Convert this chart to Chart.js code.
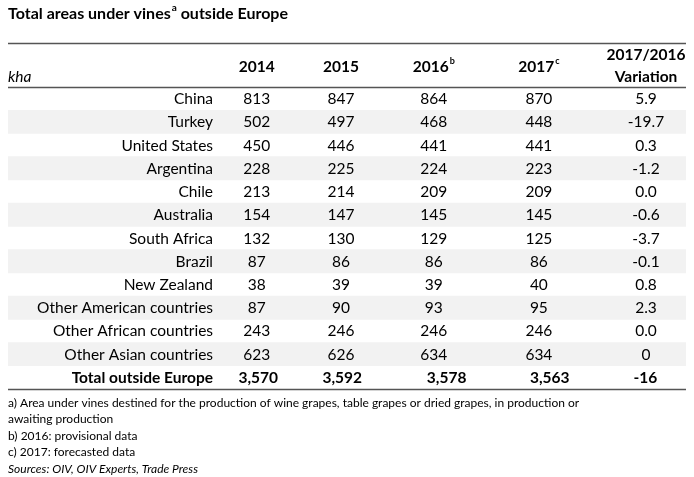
<!DOCTYPE html>
<html><head><meta charset="utf-8">
<script src="https://cdn.jsdelivr.net/npm/chart.js@4/dist/chart.umd.min.js"></script>
<style>html,body{margin:0;padding:0;background:#fff}#wrap{width:694px;height:477px;position:relative}</style>
</head><body><div id="wrap"><canvas id="c"></canvas></div>
<script>
// ---- data ----
const rowLabels = ['China','Turkey','United States','Argentina','Chile','Australia','South Africa','Brazil','New Zealand','Other American countries','Other African countries','Other Asian countries','Total outside Europe'];
const years = ['2014','2015','2016','2017'];
const yearNotes = ['', '', 'b', 'c'];
const v2014 = [813,502,450,228,213,154,132,87,38,87,243,623,3570];
const v2015 = [847,497,446,225,214,147,130,86,39,90,246,626,3592];
const v2016 = [864,468,441,224,209,145,129,86,39,93,246,634,3578];
const v2017 = [870,448,441,223,209,145,125,86,40,95,246,634,3563];
const variation = ['5.9','-19.7','0.3','-1.2','0.0','-0.6','-3.7','-0.1','0.8','2.3','0.0','0','-16'];
const titleParts = ['Total areas under vines', 'a', ' outside Europe'];
const unitLabel = 'kha';
const varHeader = ['2017/2016', 'Variation'];
const footnotes = [
  'a) Area under vines destined for the production of wine grapes, table grapes or dried grapes, in production or',
  'awaiting production',
  'b) 2016: provisional data',
  'c) 2017: forecasted data'
];
const sourceNote = 'Sources: OIV, OIV Experts, Trade Press';

// ---- layout / style (not data) ----
const F = 'Lato, "Noto Sans", sans-serif';
const BODY = 15.5;
const colPos = {label: 30.24, c: [36.7, 49.1, 62.8, 78.3], v: 94.1};
const totalColPos = {c: [36.9, 49.3, 64.7, 79.9], v: 94.0};
const totalIndex = rowLabels.length - 1;
const stripes = rowLabels.map((_, i) => (i % 2 === 1 && i !== totalIndex) ? [0, 100] : null);
const cols = [v2014, v2015, v2016, v2017];
const fmt = n => n.toLocaleString('en-US');

function supText(ctx, parts, x, y, size, weight, align) {
  ctx.font = weight + ' ' + size + 'px ' + F;
  const w0 = ctx.measureText(parts[0]).width;
  ctx.font = weight + ' ' + Math.round(size * 0.6) + 'px ' + F;
  const w1 = parts[1] ? ctx.measureText(parts[1]).width + 1 : 0;
  ctx.font = weight + ' ' + size + 'px ' + F;
  const w2 = parts[2] ? ctx.measureText(parts[2]).width : 0;
  let sx = align === 'center' ? x - (w0 + w1 + w2) / 2 : x;
  ctx.textAlign = 'left';
  ctx.fillText(parts[0], sx, y);
  if (parts[1]) {
    ctx.font = weight + ' ' + Math.round(size * 0.6) + 'px ' + F;
    ctx.fillText(parts[1], sx + w0 + 1, y - size * 0.4);
  }
  if (parts[2]) {
    ctx.font = weight + ' ' + size + 'px ' + F;
    ctx.fillText(parts[2], sx + w0 + w1, y);
  }
}

const tablePlugin = {
  id: 'tableText',
  afterDatasetsDraw(chart) {
    const {ctx, chartArea, scales} = chart;
    const xs = scales.x, ys = scales.y;
    const top = chartArea.top, bottom = chartArea.bottom;
    ctx.save();
    ctx.fillStyle = '#000';
    ctx.textBaseline = 'middle';
    rowLabels.forEach((lab, i) => {
      const y = ys.getPixelForValue(i) + 0.5;
      const bold = i === totalIndex;
      const cp = bold ? totalColPos : colPos;
      ctx.font = (bold ? 'bold ' : '') + BODY + 'px ' + F;
      ctx.textAlign = 'right';
      ctx.fillText(lab, xs.getPixelForValue(colPos.label), y);
      ctx.textAlign = 'center';
      cols.forEach((arr, j) => ctx.fillText(fmt(arr[i]), xs.getPixelForValue(cp.c[j]), y));
      ctx.fillText(variation[i], xs.getPixelForValue(cp.v), y);
    });
    years.forEach((yr, j) => {
      supText(ctx, [yr, yearNotes[j], ''], xs.getPixelForValue(colPos.c[j]), top - 20, BODY, 'bold', 'center');
    });
    ctx.font = 'bold ' + BODY + 'px ' + F;
    ctx.textAlign = 'center';
    ctx.fillText(varHeader[0], xs.getPixelForValue(colPos.v), top - 32);
    ctx.fillText(varHeader[1], xs.getPixelForValue(colPos.v), top - 10);
    ctx.font = 'italic ' + BODY + 'px ' + F;
    ctx.textAlign = 'left';
    ctx.fillText(unitLabel, chartArea.left, top - 10);
    ctx.strokeStyle = '#555';
    ctx.lineWidth = 1.3;
    [top - 44, top, bottom].forEach(yy => {
      ctx.beginPath();
      ctx.moveTo(chartArea.left, Math.round(yy) + 0.5);
      ctx.lineTo(chartArea.right, Math.round(yy) + 0.5);
      ctx.stroke();
    });
    supText(ctx, titleParts, chartArea.left, 14, 16, 'bold', 'left');
    ctx.font = '12px ' + F;
    ctx.textAlign = 'left';
    footnotes.forEach((t, k) => ctx.fillText(t, chartArea.left, bottom + 14 + k * 16.5));
    ctx.font = 'italic 12px ' + F;
    ctx.fillText(sourceNote, chartArea.left, bottom + 14 + 4 * 16.5);
    ctx.restore();
  }
};

new Chart(document.getElementById('c'), {
  type: 'bar',
  data: {
    labels: rowLabels,
    datasets: [{
      data: stripes,
      backgroundColor: '#f2f2f2',
      borderWidth: 0,
      categoryPercentage: 1,
      barPercentage: 1
    }]
  },
  options: {
    indexAxis: 'y',
    responsive: true,
    maintainAspectRatio: false,
    animation: false,
    events: [],
    layout: {padding: {top: 87, bottom: 88, left: 8, right: 8}},
    scales: {
      x: {type: 'linear', min: 0, max: 100, display: false},
      y: {type: 'category', display: false, offset: true}
    },
    plugins: {legend: {display: false}, tooltip: {enabled: false}, title: {display: false}}
  },
  plugins: [tablePlugin]
});
</script></body></html>
